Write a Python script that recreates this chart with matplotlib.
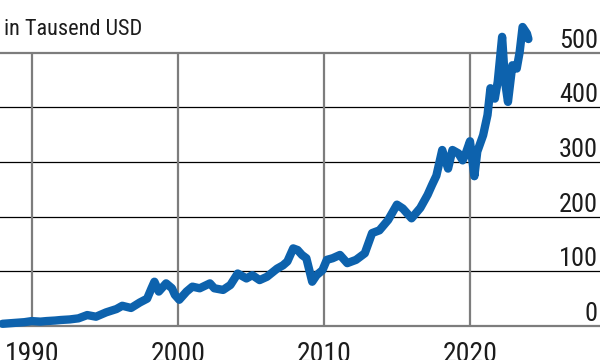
import matplotlib
matplotlib.use("Agg")
import matplotlib.pyplot as plt
from matplotlib import font_manager
import matplotlib.transforms as mtransforms

# ---- data ----
dates = [1988.0, 1988.5, 1989.0, 1989.5, 1990.0, 1990.6, 1991.0, 1991.6, 1992.0, 1992.6,
         1993.2, 1993.8, 1994.4, 1995.1, 1995.8, 1996.2, 1996.8, 1997.4, 1997.9, 1998.2,
         1998.4, 1998.7, 1999.2, 1999.6, 1999.8, 2000.1, 2000.6, 2001.0, 2001.5, 2002.2,
         2002.5, 2003.1, 2003.6, 2004.1, 2004.7, 2005.1, 2005.6, 2006.1, 2006.8, 2007.2,
         2007.5, 2007.9, 2008.2, 2008.5, 2008.8, 2009.2, 2009.5, 2009.9, 2010.2, 2010.6,
         2011.1, 2011.6, 2012.2, 2012.8, 2013.3, 2013.8, 2014.4, 2015.0, 2015.4, 2016.0,
         2016.6, 2017.1, 2017.4, 2017.7, 2018.1, 2018.5, 2018.8, 2019.2, 2019.5, 2019.7,
         2020.0, 2020.3, 2020.5, 2020.9, 2021.2, 2021.4, 2021.7, 2021.9, 2022.2, 2022.4,
         2022.6, 2022.9, 2023.2, 2023.4, 2023.6, 2023.9, 2024.0]
values = [4, 5, 6, 7, 9, 8, 9, 10, 11, 12,
          14, 20, 17, 25, 31, 37, 33, 43, 50, 69,
          81, 63, 78, 69, 57, 48, 63, 72, 69, 78,
          69, 66, 75, 96, 87, 93, 84, 90, 105, 111,
          118, 142, 139, 130, 124, 81, 93, 102, 121, 124,
          130, 115, 121, 133, 170, 175, 194, 222, 215, 197,
          216, 240, 258, 275, 322, 288, 322, 316, 303, 315,
          338, 274, 319, 349, 386, 435, 416, 447, 529, 447,
          410, 477, 471, 501, 547, 535, 525]

x_ticks = [1990, 2000, 2010, 2020]
x_labels = ["1990", "2000", "2010", "2020"]
y_ticks = [0, 100, 200, 300, 400, 500]
y_labels = ["0", "100", "200", "300", "400", "500"]
unit_label = "in Tausend USD"

# ---- font: prefer a condensed face if one is installed ----
ttf = font_manager.fontManager.ttflist
names = {f.name for f in ttf}
FONT = None
for cand in ["Liberation Sans Narrow", "Roboto Condensed", "Open Sans Condensed",
             "Noto Sans Condensed", "DejaVu Sans Condensed"]:
    if cand in names:
        FONT = dict(family=cand)
        break
if FONT is None:
    cond = [f for f in ttf if f.name == "DejaVu Sans" and "ondensed" in str(f.stretch)]
    if cond:
        FONT = dict(family="DejaVu Sans", stretch="condensed")
    else:
        FONT = dict(family="Roboto")
CONDENSED = FONT.get("family") != "Roboto"

YS = 19 if CONDENSED else 16
XS = 20 if CONDENSED else 18
TS = 16 if CONDENSED else 15

BLUE = "#0d62ad"
GRAY = "#7d7d7d"
TXT = "#1c1c1c"

fig = plt.figure(figsize=(6, 3.6), dpi=100)
ax = fig.add_axes([0, 34 / 360, 1, (326 - 52.7) / 360])
ax.set_xlim(1987.83, 2028.9)
ax.set_ylim(0, 500)
for s in ax.spines.values():
    s.set_visible(False)

for v in y_ticks:
    if v in (0, 500):
        ax.axhline(v, color=GRAY, lw=1.6, zorder=1, clip_on=False)
    else:
        ax.axhline(v, color="black", lw=0.9, zorder=1)
for xv in x_ticks:
    ax.axvline(xv, color=GRAY, lw=1.6, zorder=1)

ax.plot(dates, values, color=BLUE, lw=6.0, solid_joinstyle="round",
        solid_capstyle="round", zorder=3, clip_on=False)

ax.set_xticks(x_ticks)
ax.set_xticklabels(x_labels, fontsize=XS, color=TXT, **FONT)
ax.tick_params(axis="x", length=0, pad=11)
ax.set_yticks([])

trans = mtransforms.blended_transform_factory(ax.transAxes, ax.transData)
off = mtransforms.ScaledTranslation(0, 5 / 100, fig.dpi_scale_trans)
for v, lab in zip(y_ticks, y_labels):
    ax.text(1 - 2 / 600, v, lab, transform=trans + off, ha="right", va="baseline",
            fontsize=YS, color=TXT, **FONT)

fig.text(4 / 600, (360 - 35) / 360, unit_label, ha="left", va="baseline",
         fontsize=TS, color=TXT, **FONT)

fig.savefig("out.png", dpi=100)
